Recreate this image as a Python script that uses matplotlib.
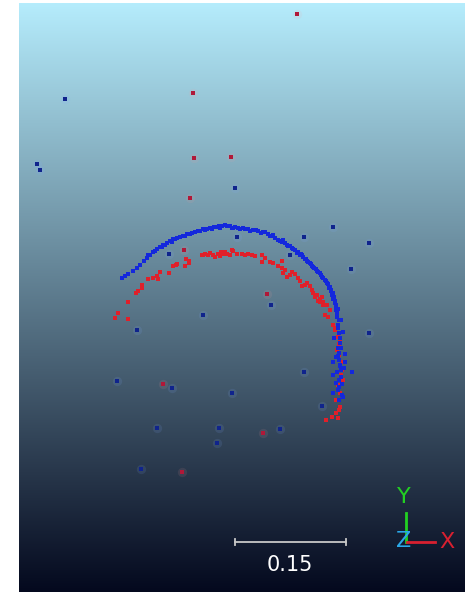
import numpy as np
import matplotlib
matplotlib.use("Agg")
import matplotlib.pyplot as plt

# ---- data (screen-space coordinates of the rendered point cloud) ----
blue_arc_x = [122,125,128,133,137,140,144,147,150,153,157,160,163,167,170,173,177,180,183,187,
              192,195,198,203,207,210,214,217,222,225,230,235,233,238,243,248,253,258,263,268,
              272,275,278,282,285,288,292,295,298,301,303,306,308,311,313,316,318,321,323,326,
              328,329,331,332,333,335,336,337,336,337,338,339,340,339,339,341,339,339,343,333,
              352,345,343,333,341,338,340,342,336,334,
              148,155,162,165,172,175,185,190,200,205,212,219,220,227,232,240,245,250,256,261,
              265,270,273,280,283,287,290,293,297,300,302,305,307,310,312,314,317,320,322,325,
              327,330,331,333,334,335,336,338,337,339,338,340,341,338,340,337,341,338,336,345,
              344,333,342,339]
blue_arc_y = [278,276,274,271,268,265,261,258,255,252,249,247,245,243,241,239,238,237,236,234,
              233,232,231,229,229,228,227,227,226,225,226,227,228,228,228,229,230,231,232,234,
              236,238,240,242,243,246,248,250,252,254,257,259,262,264,267,269,272,275,278,281,
              284,288,291,295,299,303,308,312,310,317,325,333,343,353,360,370,380,387,397,375,
              372,362,332,393,320,348,365,384,357,338,
              255,251,247,245,242,239,236,234,231,230,229,226,228,226,228,229,229,231,230,233,
              232,236,235,241,240,245,246,249,253,255,255,259,261,263,266,268,271,273,277,280,
              283,287,290,293,297,301,305,309,314,320,328,338,348,356,366,372,377,390,383,354,
              368,362,395,400]

red_arc_x = [115,118,128,128,136,138,142,142,148,153,157,158,160,169,173,176,177,185,186,189,
             189,202,203,208,213,215,218,221,224,227,230,233,237,232,237,242,248,252,262,262,
             270,273,282,282,283,287,292,295,298,300,302,307,310,312,313,315,318,322,323,327,
             320,323,325,328,333,335,338,340,339,343,342,343,340,340,332,338,336,326,
             205,210,220,225,245,255,265,278,285,290,305,317,320,330,335,337,339,341,338,336,339]
red_arc_y = [318,313,319,302,293,291,285,288,279,278,276,279,272,273,266,265,264,266,259,261,
             263,255,255,255,255,257,254,252,254,254,255,251,254,250,254,254,254,255,255,262,
             262,263,261,268,273,277,272,274,278,281,286,283,286,290,293,297,301,297,302,305,
             302,305,315,317,325,328,337,340,344,362,370,380,393,407,417,418,413,420,
             254,253,256,252,255,256,258,266,270,275,285,295,299,310,330,350,355,375,385,400,410]

blue_out_x = [65,37,40,235,333,304,369,351,271,369,304,322,280,219,217,232,172,117,157,141,137,
              169,237,203,290]
blue_out_y = [99,164,170,188,227,237,243,269,305,333,372,406,429,428,443,393,388,381,428,469,330,
              254,237,315,255]

red_out_x = [297,193,194,231,190,184,267,163,263,182]
red_out_y = [14,93,158,157,198,250,294,384,433,472]

scale_label = "0.15"

# ---- figure ----
W, H = 467, 592
fig = plt.figure(figsize=(W/100, H/100), dpi=100)
fig.patch.set_facecolor("white")
x0, x1, y0, y1 = 19, 465, 3, 592
ax = fig.add_axes([x0/W, 1 - y1/H, (x1-x0)/W, (y1-y0)/H])
ax.set_xlim(x0, x1)
ax.set_ylim(y1, y0)
ax.axis("off")

# gradient background
top = np.array([181, 236, 252]) / 255.0
bot = np.array([4, 9, 30]) / 255.0
t = np.linspace(0, 1, 256)[:, None]
grad = (top[None, :] * (1 - t) + bot[None, :] * t)[:, None, :]
ax.imshow(grad, extent=[x0, x1, y1, y0], aspect="auto", zorder=0, interpolation="bilinear")

ms = 7
# faint halos for isolated points
ax.scatter(blue_out_x, blue_out_y, s=45, c="#7fa8ff", alpha=0.12, linewidths=0, zorder=1)
ax.scatter(red_out_x, red_out_y, s=45, c="#ff9a9a", alpha=0.10, linewidths=0, zorder=1)

ax.scatter(red_arc_x, red_arc_y, s=ms, marker="s", c="#e0202a", linewidths=0, zorder=2)
ax.scatter(blue_arc_x, blue_arc_y, s=ms, marker="s", c="#1428dc", linewidths=0, zorder=3)
ax.scatter(blue_out_x, blue_out_y, s=ms-1, marker="s", c="#10248c", linewidths=0, zorder=3)
ax.scatter(red_out_x, red_out_y, s=ms-1, marker="s", c="#b01838", linewidths=0, zorder=3)

# scale bar
sb_col = "#c8c8c8"
ax.plot([235, 346], [542, 542], color=sb_col, lw=1.3, zorder=5)
ax.plot([235, 235], [539, 545], color=sb_col, lw=1.3, zorder=5)
ax.plot([346, 346], [539, 545], color=sb_col, lw=1.3, zorder=5)
ax.text(290, 565, scale_label, color="white", fontsize=15, ha="center", va="center", zorder=5)

# axis triad
ax.plot([406, 406], [513, 542], color="#22d022", lw=2, zorder=5)
ax.plot([407, 435], [542, 542], color="#d82030", lw=2, zorder=5)
ax.text(404, 497, "Y", color="#22d022", fontsize=16, ha="center", va="center", zorder=6)
ax.text(404, 541, "Z", color="#2aa8e8", fontsize=16, ha="center", va="center", zorder=6)
ax.text(447, 542, "X", color="#d82030", fontsize=16, ha="center", va="center", zorder=6)

fig.savefig("out.png", dpi=100)
